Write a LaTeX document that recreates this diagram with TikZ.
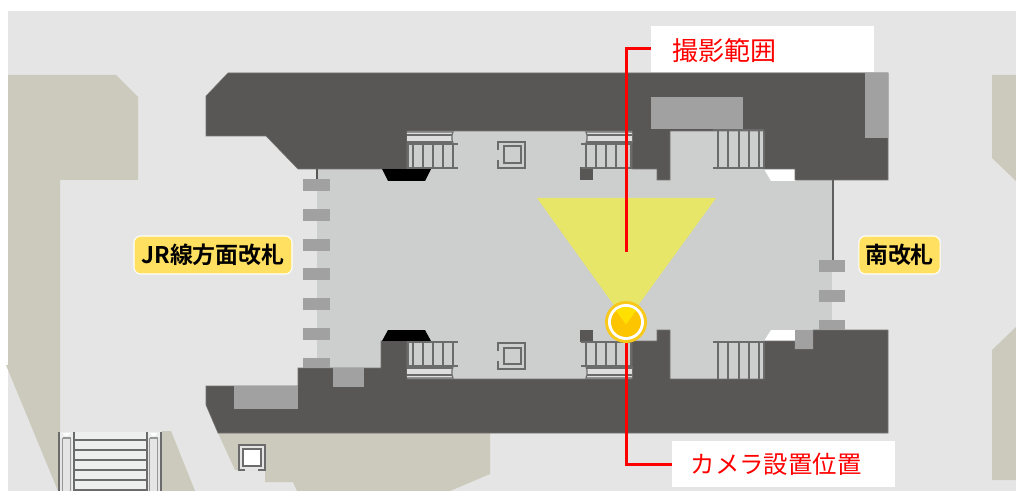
\documentclass[tikz,border=0pt]{standalone}
\usepackage{fontspec}
\newfontfamily\jpfont{Noto Sans CJK JP}
\newfontfamily\jpbold{Noto Sans CJK JP Bold}
\definecolor{mapbg}{HTML}{E5E5E5}
\definecolor{beige}{HTML}{CCCABC}
\definecolor{darkwall}{HTML}{595755}
\definecolor{floorc}{HTML}{CDCFCE}
\definecolor{gatec}{HTML}{A0A1A0}
\definecolor{linec}{HTML}{6B6B6B}
\definecolor{conec}{HTML}{E7E668}
\definecolor{tagc}{HTML}{FFE060}
\definecolor{ringc}{HTML}{F8C91A}
\definecolor{camc}{HTML}{FCC500}
\definecolor{camtop}{HTML}{FFE000}
\definecolor{stepc}{HTML}{EDEFEE}
\definecolor{bandc}{HTML}{DDDEDD}
\tikzset{
  gatebar/.style={fill=gatec,draw=none},
  wall/.style={fill=darkwall,draw=gray!70!darkwall,line width=.4pt},
  fitting/.style={draw=linec,line width=1.5pt,line cap=butt},
  thinfit/.style={draw=linec,line width=.9pt},
  leader/.style={draw=red,line width=2.25pt,line join=miter},
  whitebox/.style={fill=white,draw=none,minimum width=167.25pt,minimum height=34.5pt,inner sep=0pt},
  redtext/.style={text=red,inner sep=0pt},
  tag/.style={fill=tagc,draw=white,line width=.8pt,rounded corners=5pt,minimum height=28.5pt,inner sep=0pt,font=\jpbold\fontsize{17.2pt}{20pt}\selectfont},
}
\newcommand{\stairfull}{%
  \fill[bandc] (0,1) -- (46,1) .. controls (44.5,4) and (44.5,9) .. (46,12) -- (0,12) -- cycle;
  \draw[thinfit] (0,1) -- (46,1) .. controls (44.5,4) and (44.5,9) .. (46,12);
  \draw[thinfit] (0,4) -- (45,4);
  \draw[thinfit] (0,11) -- (45,11);
  \draw[fitting] (0,13.5) -- (51,13.5);
  \draw[fitting] (0,37) -- (51,37);
  \foreach \vx in {0.7,5.7,15.7,25.7,35.7,46}{\draw[fitting] (\vx,14) -- (\vx,37);}
}
\newcommand{\lift}[2]{%
  \begin{scope}[shift={(#1,#2)}]
    \draw[fitting] (0,9) -- (0,0.7) -- (27,0.7) -- (27,27) -- (0,27) -- (0,19);
    \draw[fitting] (5.5,5.5) rectangle (22.5,22);
  \end{scope}
}
\begin{document}
\begin{tikzpicture}[x=0.75pt,y=-0.75pt]
\useasboundingbox (0,0) rectangle (1016,491);
\fill[white] (0,0) rectangle (1016,491);
\fill[mapbg] (8,11) rectangle (1016,491);
% beige surroundings
\fill[beige] (8,75) -- (116,75) -- (138,97) -- (138,180) -- (60,180) -- (60,491) -- (58,491) -- (6,365) -- (8,365) -- cycle;
\fill[beige] (162,431) -- (171,431) -- (195,491) -- (162,491) -- cycle;
\fill[beige] (218,433) -- (490,433) -- (490,474) -- (450,491) -- (297,491) -- (293,482) -- (265,482) -- (265,470) -- (235,470) -- cycle;
\fill[beige] (1016,75) -- (992,75) -- (992,158) -- (1016,181) -- cycle;
\fill[beige] (1016,327) -- (992,350) -- (992,480) -- (1016,480) -- cycle;
% floor
\fill[floorc] (317,131) rectangle (832,379);
% white wedges
\fill[white] (764,169) -- (771,181) -- (796,181) -- (796,169) -- cycle;
\fill[white] (764,341) -- (771,330) -- (796,330) -- (796,341) -- cycle;
% walls
\draw[wall] (206,96) -- (228,73) -- (888,73) -- (888,180) -- (795,180) -- (795,169) -- (764,169) -- (764,131) -- (670,131) -- (670,180) -- (657,180) -- (657,169) -- (632,169) -- (632,131) -- (407,131) -- (407,169) -- (298,169) -- (266,136) -- (206,136) -- cycle;
\draw[wall] (206,386) -- (298,386) -- (298,368) -- (381,368) -- (381,341) -- (407,341) -- (407,379) -- (632,379) -- (632,341) -- (657,341) -- (657,330) -- (670,330) -- (670,379) -- (764,379) -- (764,341) -- (795,341) -- (795,349) -- (813,349) -- (813,330) -- (888,330) -- (888,433) -- (218,433) -- (206,405) -- cycle;
\fill[darkwall] (580,167) rectangle (593,180);
\fill[darkwall] (580,330) rectangle (593,342);
% inner grey blocks
\fill[gatec] (651,97) rectangle (743,129);
\fill[gatec] (865,73.5) rectangle (887.5,138);
\fill[gatec] (234,386) rectangle (298,409);
\fill[gatec] (333,368) rectangle (364,387);
\fill[gatec] (795,330) rectangle (813,349);
% black blocks
\fill[black] (382,169) -- (431,169) -- (425,181) -- (388,181) -- cycle;
\fill[black] (388,330) -- (425,330) -- (431,341) -- (382,341) -- cycle;
% side walls
\draw[darkwall,line width=1.5pt] (317,169) -- (317,180);
\draw[darkwall!80!gray,line width=1.5pt] (832.5,180) -- (832.5,260);
% gates
\foreach \gy in {179,209,239,268,298,328}{\fill[gatec] (303,\gy) rectangle (330,\gy+12);}
\fill[gatec] (303,358) rectangle (330,368);
\foreach \gy in {260,290}{\fill[gatec] (819,\gy) rectangle (845,\gy+12);}
\fill[gatec] (819,320) rectangle (845,330);
% stairs
\begin{scope}[shift={(407,131)}]\stairfull\end{scope}
\begin{scope}[shift={(632,131)},xscale=-1]\stairfull\end{scope}
\begin{scope}[shift={(407,379)},yscale=-1]\stairfull\end{scope}
\begin{scope}[shift={(632,379)},xscale=-1,yscale=-1]\stairfull\end{scope}
% plain stairs on the right
\draw[fitting] (713,130) -- (764,130);
\draw[fitting] (713,168) -- (764,168);
\foreach \vx in {718,728,739,749,759,764}{\draw[fitting] (\vx,131) -- (\vx,168);}
\draw[fitting] (713,342) -- (764,342);
\foreach \vx in {718,728,739,749,759,764}{\draw[fitting] (\vx,342) -- (\vx,379);}
% lifts
\lift{498}{141}
\lift{498}{342}
\fill[mapbg] (238,444) rectangle (266,470);
\fill[white] (243,449) rectangle (261,466);
\draw[thinfit] (243,449) rectangle (261,466);
\draw[fitting] (245,470) -- (238.7,470) -- (238.7,444.7) -- (265.3,444.7) -- (265.3,470) -- (258,470);
% lower-left escalator
\fill[stepc] (59,432) rectangle (161,491);
\fill[mapbg] (60,438) rectangle (72,491);
\fill[mapbg] (148,438) rectangle (160,491);
\fill[white] (63,433) .. controls (64,437) and (69,437) .. (70,433) -- cycle;
\fill[white] (150,433) .. controls (151,437) and (156,437) .. (157,433) -- cycle;
\foreach \ey in {440,450,460,470,480,490}{\draw[thinfit] (74,\ey) -- (146,\ey);}
\foreach \ex in {59,73.5,146.5,161}{\draw[fitting] (\ex,432) -- (\ex,491);}
\foreach \ex in {62.7,70.5,149.5,157.5}{\draw[draw=linec!70,line width=.8pt] (\ex,438) -- (\ex,491);}
\draw[draw=linec!70,line width=.8pt] (62.7,438) -- (70.5,438);
\draw[draw=linec!70,line width=.8pt] (149.5,438) -- (157.5,438);
% cone
\fill[conec] (537,198) -- (716,198) -- (626,322) -- cycle;
% label boxes
\node[whitebox] (rangebox) at (762.5,49) {};
\node[whitebox] (cambox) at (783.5,464) {};
\node[redtext,anchor=center,font=\jpfont\fontsize{19.5pt}{22pt}\selectfont] (rangetext) at (724,51) {撮影範囲};
\node[redtext,anchor=center,font=\jpfont\fontsize{18.3pt}{22pt}\selectfont] (camtext) at (776,464) {カメラ設置位置};
% tags
\node[tag,minimum width=118.5pt] (jrtag) at (213,255) {JR線方面改札};
\node[tag,minimum width=61pt] (southtag) at (899.5,255) {南改札};
% camera marker
\node[circle,fill=ringc,draw=none,minimum size=31.5pt,inner sep=0pt] (cam) at (626,322) {};
\fill[white] (626,322) circle[radius=18];
\fill[camc] (626,322) circle[radius=15];
\begin{scope}
  \clip (626,322) circle[radius=15];
  \fill[camtop] (626,324.5) -- (603,293) -- (649,293) -- cycle;
\end{scope}
% leaders
\coordinate (rangeend) at (626,252);
\draw[leader] (rangebox.west) -| (rangeend);
\draw[leader] (cam.south) |- (cambox.west);
\end{tikzpicture}
\end{document}
